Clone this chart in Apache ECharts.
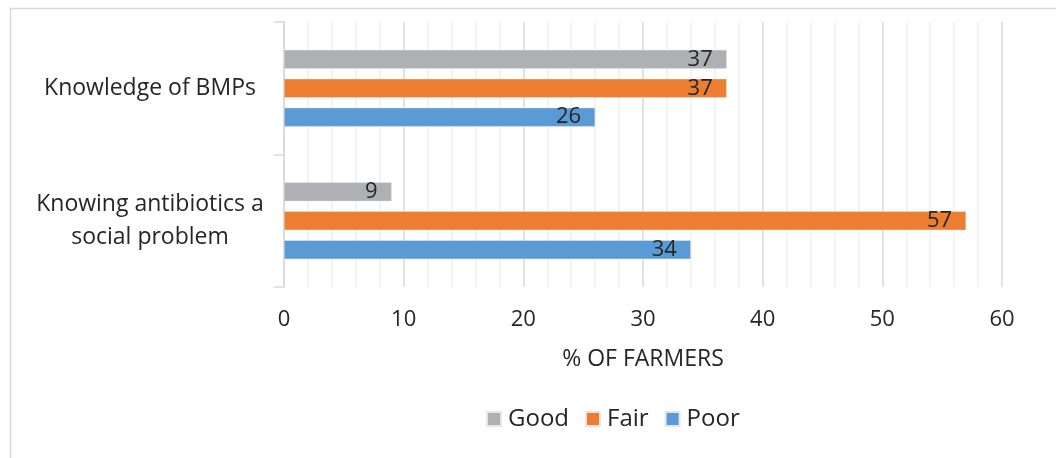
<!DOCTYPE html>
<html>
<head>
<meta charset="utf-8">
<script src="https://cdn.jsdelivr.net/npm/echarts@6/dist/echarts.min.js"></script>
<style>
html,body{margin:0;padding:0;background:#fff;}
#c{width:1056px;height:458px;}
</style>
</head>
<body>
<div id="c"></div>
<script>
const categories = ['Knowing antibiotics a social problem', 'Knowledge of BMPs'];
const categoryLabels = ['Knowing antibiotics a\nsocial problem', 'Knowledge of BMPs'];
const seriesNames = ['Good', 'Fair', 'Poor'];
const poor = [34, 26];
const fair = [57, 37];
const good = [9, 37];
const legendOrder = ['Good', 'Fair', 'Poor'];
const colors = {Good: '#AFB0B3', Fair: '#ED7D31', Poor: '#5B9BD5'};

const FONT = '"Open Sans", sans-serif';
const chart = echarts.init(document.getElementById('c'), null, {renderer: 'canvas'});
const dataBySeries = {Poor: poor, Fair: fair, Good: good};

chart.setOption({
  animation: false,
  backgroundColor: '#fff',
  textStyle: {fontFamily: FONT},
  graphic: [{
    type: 'rect', left: 8, top: 6, silent: true,
    shape: {width: 1100, height: 500},
    style: {fill: 'none', stroke: '#d9d9d9', lineWidth: 1.5}
  }],
  grid: {left: 284, right: 54, top: 22, bottom: 171, containLabel: false},
  legend: {
    data: legendOrder,
    bottom: 22,
    left: 481,
    icon: 'rect',
    itemWidth: 14, itemHeight: 14, itemGap: 16,
    textStyle: {fontFamily: FONT, fontSize: 24, color: '#262626', padding: [0, 0, 0, 2]}
  },
  xAxis: {
    type: 'value', min: 0, max: 60, interval: 10,
    axisLine: {show: false},
    axisTick: {show: false},
    axisLabel: {fontFamily: FONT, fontSize: 22, color: '#262626', margin: 22},
    splitLine: {show: true, lineStyle: {color: '#d9d9d9', width: 1.5}},
    minorTick: {show: false, splitNumber: 5},
    minorSplitLine: {show: true, lineStyle: {color: '#f0f0f0', width: 1.5}},
    name: '% OF FARMERS', nameLocation: 'middle', nameGap: 61,
    nameTextStyle: {fontFamily: FONT, fontSize: 23, color: '#262626'}
  },
  yAxis: {
    type: 'category',
    data: categories,
    axisLine: {show: true, lineStyle: {color: '#d9d9d9', width: 1.5}},
    axisTick: {show: true, length: 10, lineStyle: {color: '#d9d9d9', width: 1.5}},
    axisLabel: {
      fontFamily: FONT, fontSize: 23, color: '#262626', margin: 134, align: 'center', lineHeight: 33,
      formatter: function (v, i) { return categoryLabels[i]; }
    }
  },
  series: seriesNames.map(function (n) {
    return {
      name: n, type: 'bar',
      data: dataBySeries[n],
      barWidth: 19, barGap: '52%', barCategoryGap: '42%',
      itemStyle: {color: colors[n], borderColor: '#e6e6e6', borderWidth: 0.5},
      label: {show: true, position: 'insideRight', distance: 14,
        fontFamily: FONT, fontSize: 22, color: '#262626'}
    };
  })
});
</script>
</body>
</html>
